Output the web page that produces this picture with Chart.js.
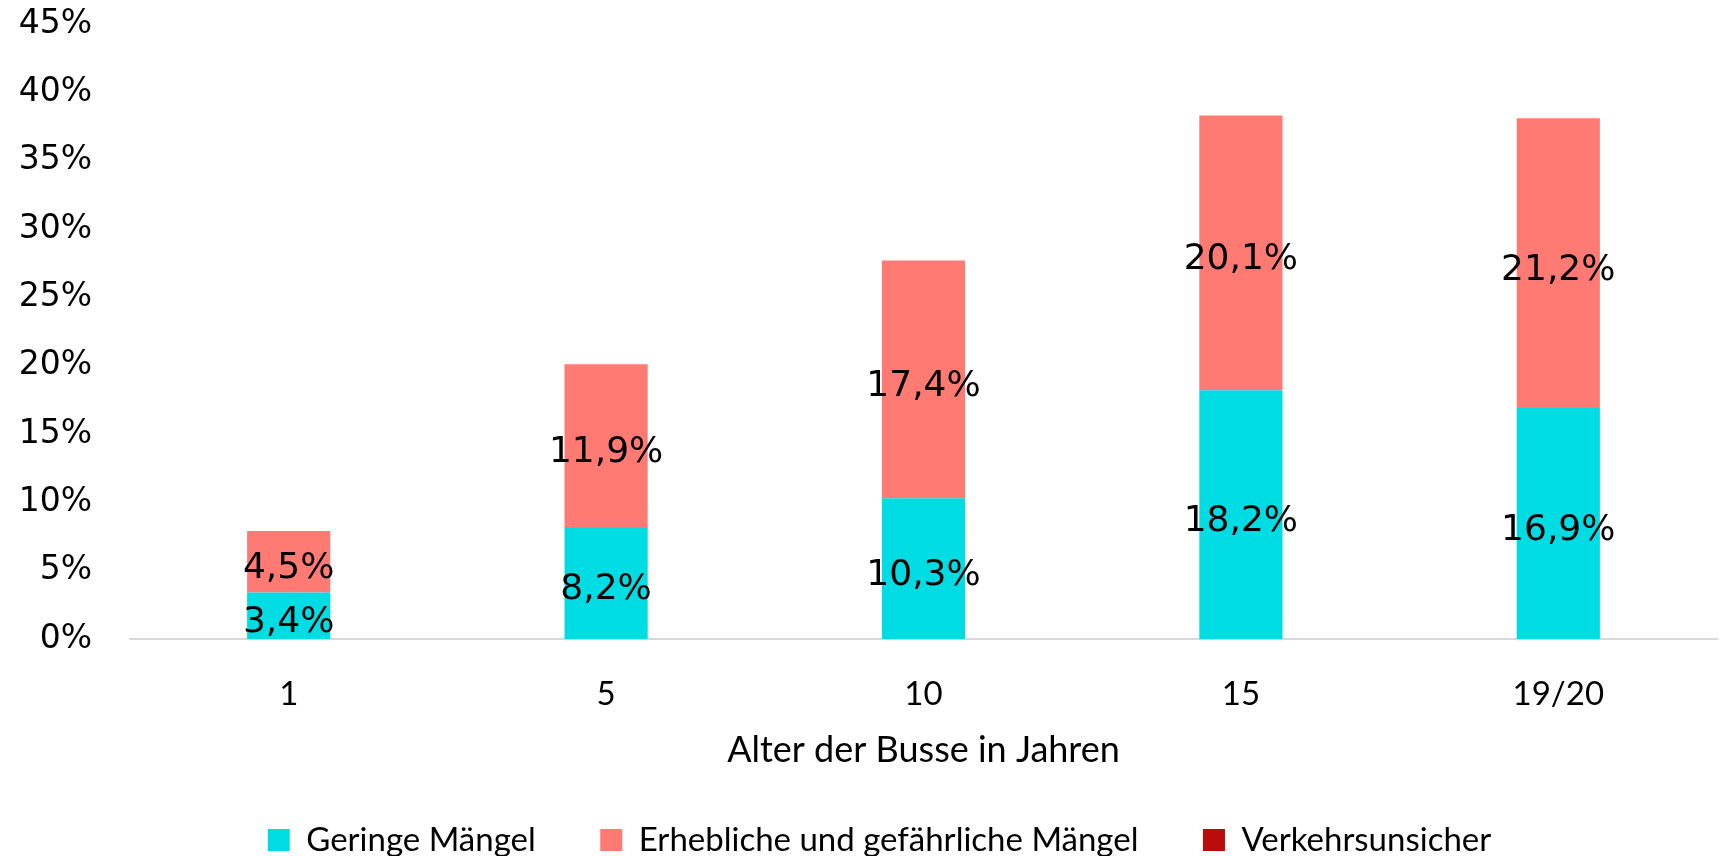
<!DOCTYPE html>
<html>
<head>
<meta charset="utf-8">
<script src="https://cdn.jsdelivr.net/npm/chart.js@4"></script>
<style>
  html, body { margin: 0; padding: 0; background: #ffffff; }
  #wrap { width: 1724px; height: 856px; position: relative; }
</style>
</head>
<body>
<div id="wrap"><canvas id="c" width="1724" height="856"></canvas></div>
<script>
const categories = ["1", "5", "10", "15", "19/20"];
const geringeMaengel = [3.4, 8.2, 10.3, 18.2, 16.9];
const erheblicheMaengel = [4.5, 11.9, 17.4, 20.1, 21.2];
const verkehrsunsicher = [0, 0, 0, 0, 0];
const seriesNames = ["Geringe Mängel", "Erhebliche und gefährliche Mängel", "Verkehrsunsicher"];
const yTicks = [0, 5, 10, 15, 20, 25, 30, 35, 40, 45];
const xAxisTitle = "Alter der Busse in Jahren";

const fmt = v => v.toFixed(1).replace('.', ',') + '%';

const labelPlugin = {
  id: 'segLabels',
  afterDatasetsDraw(chart) {
    const ctx = chart.ctx;
    ctx.save();
    ctx.font = '36px "DejaVu Sans"';
    ctx.fillStyle = '#000000';
    ctx.textAlign = 'center';
    ctx.textBaseline = 'middle';
    chart.data.datasets.forEach((ds, di) => {
      const meta = chart.getDatasetMeta(di);
      meta.data.forEach((bar, i) => {
        const v = ds.data[i];
        if (!v) return;
        const p = bar.getProps(['x', 'y', 'base'], true);
        ctx.fillText(fmt(v), p.x, (p.y + p.base) / 2 + 7);
      });
    });
    ctx.restore();
  }
};

const legendFitPlugin = {
  id: 'legendFit',
  beforeInit(chart) {
    const lg = chart.legend;
    const origFit = lg.fit;
    lg.fit = function () {
      origFit.call(this);
      this.height = 97;
      if (this.lineWidths && this.lineWidths.length) this.lineWidths[0] -= 42;
    };
  }
};

new Chart(document.getElementById('c'), {
  type: 'bar',
  data: {
    labels: categories,
    datasets: [
      { label: seriesNames[0], data: geringeMaengel, backgroundColor: '#00DCE3' },
      { label: seriesNames[1], data: erheblicheMaengel, backgroundColor: '#FF7A73' },
      { label: seriesNames[2], data: verkehrsunsicher, backgroundColor: '#BA0C0A' }
    ]
  },
  options: {
    responsive: false,
    animation: false,
    layout: { padding: { top: 24, right: 7, left: 0, bottom: 0 } },
    datasets: { bar: { categoryPercentage: 1.0, barPercentage: 0.262 } },
    plugins: {
      tooltip: { enabled: false },
      legend: {
        position: 'bottom',
        labels: {
          font: { family: 'Lato', size: 33 },
          color: '#000000',
          boxWidth: 22,
          boxHeight: 22,
          padding: 64.5
        }
      }
    },
    scales: {
      x: {
        stacked: true,
        afterFit(scale) { scale.height = 120; },
        grid: { display: false, drawTicks: false },
        border: { display: true, color: '#d9d9d9', width: 2 },
        ticks: { font: { family: 'Lato', size: 33 }, color: '#000000', padding: 36 },
        title: { display: true, text: xAxisTitle, font: { family: 'Lato', size: 36 }, color: '#000000', padding: { top: 0, bottom: -13 } }
      },
      y: {
        stacked: true,
        min: 0,
        max: 45,
        afterBuildTicks(scale) { scale.ticks = yTicks.map(v => ({ value: v })); },
        afterFit(scale) { scale.width = 130; },
        grid: { display: false, drawTicks: true, tickLength: 36, color: 'rgba(0,0,0,0)' },
        border: { display: false },
        ticks: {
          font: { family: 'DejaVu Sans', size: 33 },
          color: '#000000',
          padding: 2,
          callback: v => v + '%'
        }
      }
    }
  },
  plugins: [labelPlugin, legendFitPlugin]
});
</script>
</body>
</html>
